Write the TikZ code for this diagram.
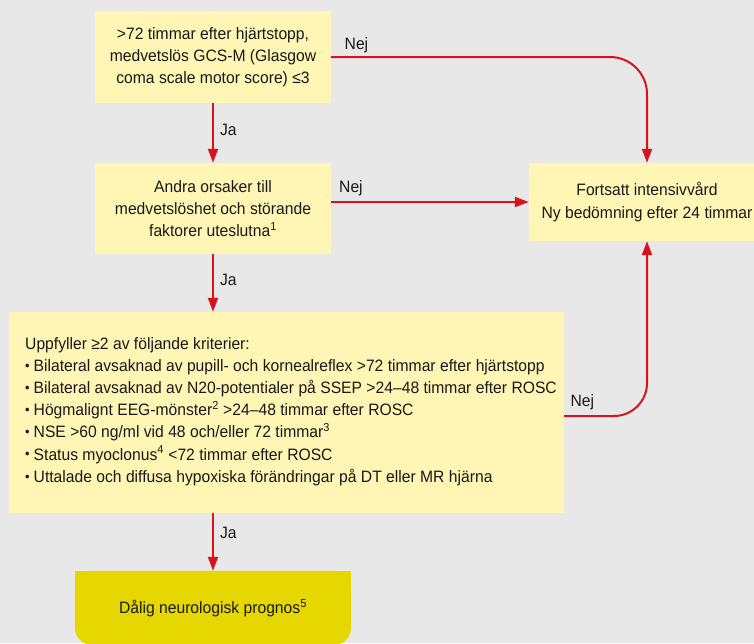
\documentclass[tikz,border=0pt]{standalone}
\usepackage{fontspec}
\setmainfont{Liberation Sans}[FakeStretch=0.95]
\usetikzlibrary{arrows.meta,calc}
\definecolor{bg}{HTML}{E8E8E8}
\definecolor{boxy}{HTML}{FFF5B4}
\definecolor{boxd}{HTML}{E6D700}
\definecolor{redl}{HTML}{D9131B}
\definecolor{txt}{HTML}{1A1A1A}
\newcommand{\mybul}{\raisebox{1.2pt}{\fontsize{13.5}{13.5}\selectfont •}\hspace{4pt}}
\begin{document}
\begin{tikzpicture}[x=1pt,y=-1pt,
  font=\fontsize{16.5}{22.2}\selectfont,
  every node/.style={text=txt},
  box/.style={fill=boxy, inner sep=0pt, align=center},
  arr/.style={draw=redl, line width=2pt, -{Triangle[width=10pt,length=14pt]}},
  lbl/.style={inner sep=0pt, anchor=west}
]
\fill[bg] (0,0) rectangle (754,643);
\useasboundingbox (0,0) rectangle (754,643);

\node[box, minimum width=236pt, minimum height=92pt] (b1) at (213,57)
  {>72 timmar efter hjärtstopp,\\medvetslös GCS-M (Glasgow\\coma scale motor score) ≤3};
\node[box, minimum width=236pt, minimum height=91pt] (b2) at (213,208.5)
  {Andra orsaker till\\medvetslöshet och störande\\faktorer uteslutna\textsuperscript{1}};
\node[box, minimum width=236pt, minimum height=78pt] (b3) at (647,202)
  {Fortsatt intensivvård\\Ny bedömning efter 24 timmar};
\node[box, minimum width=555pt, minimum height=201pt] (b4) at (286.5,412.5) {};
\node[inner sep=0pt, anchor=west, align=left] (b4t) at (25,411.5)
  {Uppfyller ≥2 av följande kriterier:\\
   \mybul Bilateral avsaknad av pupill- och kornealreflex >72 timmar efter hjärtstopp\\
   \mybul Bilateral avsaknad av N20-potentialer på SSEP >24–48 timmar efter ROSC\\
   \mybul Högmalignt EEG-mönster\textsuperscript{2} >24–48 timmar efter ROSC\\
   \mybul NSE >60 ng/ml vid 48 och/eller 72 timmar\textsuperscript{3}\\
   \mybul Status myoclonus\textsuperscript{4} <72 timmar efter ROSC\\
   \mybul Uttalade och diffusa hypoxiska förändringar på DT eller MR hjärna};
\node[inner sep=0pt, minimum width=276pt, minimum height=74pt] (b5) at (213,608) {};
\fill[boxd, rounded corners=18pt] (b5.north west) rectangle (b5.south east);
\fill[boxd] (b5.north west) rectangle (b5.east);
\node[inner sep=0pt] at (213,608) {Dålig neurologisk prognos\textsuperscript{5}};

\draw[arr] (b1.south) -- node[lbl, right=6pt, pos=0.45] {Ja} (b2.north);
\draw[arr] (b2.south) -- node[lbl, right=6pt, pos=0.45] {Ja} (b2.south |- b4.north);
\draw[arr] (b4.south -| b5.north) -- node[lbl, right=6pt, pos=0.35] {Ja} (b5.north);

\draw[arr, rounded corners=37pt] (b1.east) -- node[lbl, above=3pt, pos=0.08] {Nej} (b1.east -| b3.north) -- (b3.north);
\draw[arr] (b2.east |- b3.west) -- node[lbl, above=5pt, pos=0.1] {Nej} (b3.west);
\draw[arr, rounded corners=33pt] ([yshift=-3.5pt]b4.east) -- node[lbl, above=5pt, pos=0.22] {Nej} ([yshift=-3.5pt]b4.east -| b3.south) -- (b3.south);
\end{tikzpicture}
\end{document}
